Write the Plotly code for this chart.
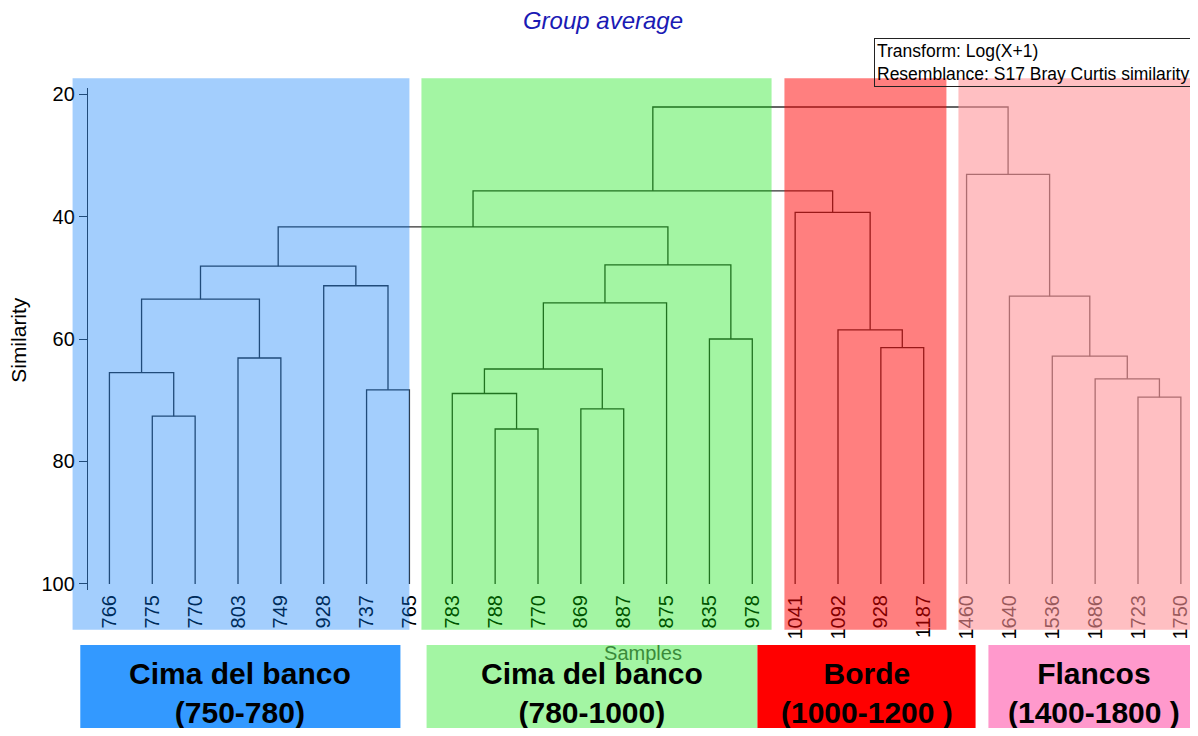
import plotly.graph_objects as go

# leaf order as drawn left to right
leaves = ['766', '775', '770', '803', '749', '928', '737', '765',
          '783', '788', '770', '869', '887', '875', '835', '978',
          '1041', '1092', '928', '1187',
          '1460', '1640', '1536', '1686', '1723', '1750']

# group-average merges: node a + node b at similarity; new nodes get ids 26, 27, ...
merge_a = [1, 0, 3, 6, 5, 27, 31, 9, 8, 11, 34, 36, 14, 37, 32, 18, 17, 16, 40, 24, 23, 22, 21, 20, 44]
merge_b = [2, 26, 4, 7, 29, 28, 30, 10, 33, 12, 35, 13, 15, 38, 39, 19, 41, 42, 43, 25, 45, 46, 47, 48, 49]
merge_sim = [72.6, 65.5, 63.1, 68.3, 51.3, 53.5, 48.1, 74.7, 68.9, 71.4, 64.9, 54.1, 60.0, 47.9,
             41.7, 61.4, 58.5, 39.3, 35.8, 69.5, 66.5, 62.8, 53.0, 33.1, 22.1]

group_labels = ['Cima del banco<br>(750-780)', 'Cima del banco<br>(780-1000)',
                'Borde<br>(1000-1200 )', 'Flancos<br>(1400-1800 )']

# build dendrogram segments
node_x = list(range(len(leaves)))
node_h = [100] * len(leaves)
xs, ys = [], []
for a, b, h in zip(merge_a, merge_b, merge_sim):
    xs += [node_x[a], node_x[a], node_x[b], node_x[b], None]
    ys += [node_h[a], h, h, node_h[b], None]
    node_x.append((node_x[a] + node_x[b]) / 2)
    node_h.append(h)

XL, XR = -0.5, 25.4
YT, YB = 19, 101


def px(i):
    return (i - XL) / (XR - XL)


def py(v):
    return (YB - v) / (YB - YT)


FONT = 'Liberation Sans, Arial, sans-serif'

fig = go.Figure()
fig.add_trace(go.Scatter(x=xs, y=ys, mode='lines', line=dict(color='#333333', width=1.3),
                         hoverinfo='skip', showlegend=False))

# coloured bands over the dendrogram (semi-transparent, drawn on top)
bands = [(-0.86, 7.0, 'rgb(0,120,250)', 0.36),
         (7.28, 15.45, 'rgb(0,228,0)', 0.36),
         (15.75, 19.53, 'rgb(255,0,0)', 0.5),
         (19.81, 25.45, 'rgb(255,148,153)', 0.6)]
for x0, x1, col, op in bands:
    fig.add_shape(type='rect', xref='paper', yref='paper', x0=px(x0), x1=px(x1),
                  y0=py(107.5), y1=py(17.4), fillcolor=col, opacity=op,
                  line=dict(width=0), layer='above')

# group boxes below
boxes = [(-0.68, 6.79, '#3399ff', 1.0),
         (7.40, 15.12, 'rgb(0,228,0)', 0.36),
         (15.12, 20.21, '#ff0000', 1.0),
         (20.51, 25.45, '#ff99cc', 1.0)]
for (x0, x1, col, op), lab in zip(boxes, group_labels):
    fig.add_shape(type='rect', xref='paper', yref='paper', x0=px(x0), x1=px(x1),
                  y0=py(126), y1=py(110.0), fillcolor=col, opacity=op,
                  line=dict(width=0), layer='above')
    fig.add_annotation(xref='paper', yref='paper', x=px((x0 + x1) / 2), y=py(117.75),
                       xanchor='center', yanchor='middle',
                       text='<b>' + lab + '</b>', showarrow=False,
                       font=dict(family=FONT, size=30, color='black'))

fig.add_annotation(xref='paper', yref='paper', x=px(-2.12), y=py(60.2), text='Similarity',
                   xanchor='center', yanchor='middle',
                   textangle=-90, showarrow=False, font=dict(family=FONT, size=21, color='black'))

fig.add_annotation(xref='paper', yref='paper', x=px(17.85), y=py(10.86), xanchor='left', yanchor='top',
                   text='Transform: Log(X+1)<br>Resemblance: S17 Bray Curtis similarity',
                   align='left', showarrow=False, bordercolor='#222222', borderwidth=1, borderpad=2,
                   font=dict(family=FONT, size=17.5, color='black'))

fig.update_layout(
    width=1190, height=720,
    margin=dict(l=80, r=0, t=80, b=138),
    plot_bgcolor='white', paper_bgcolor='white',
    font=dict(family=FONT, color='black'),
    title=dict(text='Group average', x=0.5, xanchor='center', y=1 - 13 / 720, yanchor='middle',
               font=dict(family=FONT, size=24, color='#1a1ab4', style='italic')),
    xaxis=dict(range=[XL, XR], tickmode='array', tickvals=list(range(len(leaves))), ticktext=leaves,
               tickangle=-90, ticks='', showline=False, showgrid=False, zeroline=False,
               tickfont=dict(size=20, color='black'),
               title=dict(text='Samples', font=dict(size=20, color='#3a8a3a'), standoff=7)),
    yaxis=dict(range=[YB, YT], tickmode='array', tickvals=[20, 40, 60, 80, 100],
               ticks='outside', ticklen=8, tickcolor='#333333', tickwidth=1.3,
               showline=True, linecolor='#333333', linewidth=1.3,
               showgrid=False, zeroline=False, tickfont=dict(size=20, color='black')),
)

fig.write_html("out.html")
